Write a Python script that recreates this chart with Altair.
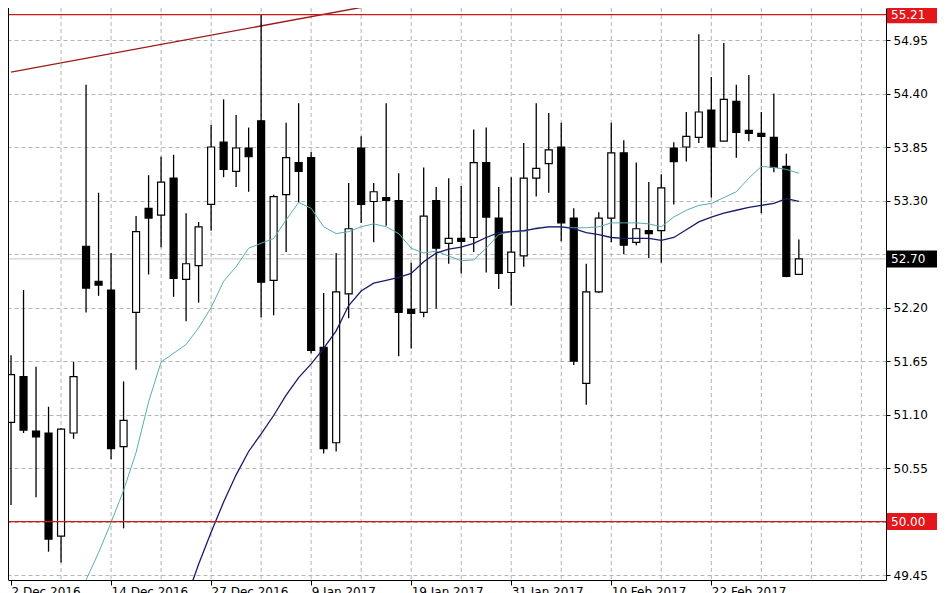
import json
import altair as alt
import pandas as pd

# ---------------- data ----------------
opens = [51.02, 51.49, 50.93, 50.91, 49.85, 50.91, 52.83, 52.47, 52.38, 50.77,
         52.15, 53.22, 53.15, 53.53, 52.49, 52.63, 53.26, 53.90, 53.60, 53.84,
         54.12, 52.48, 53.36, 53.69, 53.74, 51.79, 50.81, 52.34, 53.84, 53.29,
         53.33, 53.30, 52.18, 52.15, 53.30, 52.86, 52.91, 52.92, 53.69, 53.12,
         52.56, 52.73, 53.53, 53.68, 53.85, 53.12, 51.42, 52.36, 53.12, 53.79,
         52.87, 52.99, 52.99, 53.84, 53.85, 53.95, 54.23, 53.91, 54.32, 54.02,
         53.99, 53.95, 53.65, 52.54]
highs = [51.71, 52.38, 51.59, 51.18, 50.96, 51.64, 54.49, 53.38, 52.76, 51.44,
         53.14, 53.56, 53.75, 53.77, 53.17, 53.08, 54.08, 54.34, 54.18, 54.05,
         55.21, 53.36, 54.10, 54.30, 53.80, 52.35, 52.76, 53.48, 53.96, 53.48,
         54.30, 53.58, 52.66, 53.64, 53.44, 53.53, 53.45, 54.03, 54.05, 53.44,
         53.54, 53.89, 54.30, 54.20, 54.10, 53.22, 52.65, 53.18, 54.10, 53.92,
         53.69, 53.49, 53.57, 53.90, 54.21, 55.01, 54.57, 54.92, 54.49, 54.59,
         54.21, 54.40, 53.78, 52.90]
lows = [50.17, 50.91, 50.25, 49.69, 49.58, 50.85, 52.15, 52.32, 50.64, 49.93,
        51.56, 52.54, 52.82, 52.31, 52.06, 52.25, 52.99, 53.54, 53.44, 53.39,
        52.10, 52.12, 52.77, 53.28, 51.73, 50.70, 50.72, 52.09, 53.07, 52.87,
        53.04, 51.70, 51.78, 52.10, 52.19, 52.65, 52.55, 52.77, 52.56, 52.39,
        52.22, 52.62, 53.34, 53.38, 52.88, 51.61, 51.20, 52.35, 52.87, 52.75,
        52.84, 52.71, 52.66, 53.26, 53.70, 53.89, 53.33, 53.91, 53.74, 53.91,
        53.17, 53.59, 52.51, 52.54]
closes = [51.51, 50.94, 50.87, 49.82, 50.95, 51.49, 52.40, 52.43, 50.75, 51.04,
          52.98, 53.12, 53.49, 52.50, 52.65, 53.03, 53.85, 53.62, 53.84, 53.75,
          52.46, 53.34, 53.74, 53.60, 51.76, 50.75, 52.36, 53.01, 53.26, 53.39,
          53.30, 52.15, 52.14, 53.14, 52.81, 52.91, 52.88, 53.69, 53.13, 52.55,
          52.77, 53.53, 53.63, 53.82, 53.07, 51.65, 52.36, 53.12, 53.79, 52.84,
          53.01, 52.96, 53.43, 53.70, 53.96, 54.21, 53.85, 54.34, 54.00, 53.99,
          53.96, 53.64, 52.52, 52.70]

fast_start = 5
ma_fast = [49.13, 49.40, 49.68, 49.99, 50.32, 50.71, 51.23, 51.64, 51.73, 51.82,
           51.99, 52.20, 52.47, 52.62, 52.81, 52.86, 52.91, 53.10, 53.28, 53.22,
           53.03, 52.96, 52.98, 53.03, 53.06, 53.03, 52.96, 52.81, 52.76, 52.78,
           52.73, 52.68, 52.69, 52.81, 52.95, 52.98, 52.98, 53.02, 53.03, 53.03,
           53.02, 53.02, 53.03, 53.07, 53.07, 53.07, 53.06, 53.03, 53.13, 53.20,
           53.25, 53.27, 53.33, 53.39, 53.53, 53.65, 53.64, 53.62, 53.58]
slow_start = 14
ma_slow = [49.20, 49.56, 49.89, 50.20, 50.48, 50.72, 50.90, 51.09, 51.30, 51.48,
           51.62, 51.78, 51.96, 52.22, 52.37, 52.45, 52.48, 52.51, 52.55, 52.67,
           52.76, 52.80, 52.82, 52.86, 52.92, 52.97, 52.98, 52.99, 53.01, 53.03,
           53.03, 53.01, 52.97, 52.95, 52.92, 52.91, 52.91, 52.91, 52.89, 52.92,
           53.00, 53.08, 53.13, 53.17, 53.20, 53.23, 53.25, 53.27, 53.32, 53.29]

date_labels = ["2 Dec 2016", "14 Dec 2016", "27 Dec 2016", "9 Jan 2017",
               "19 Jan 2017", "31 Jan 2017", "10 Feb 2017", "22 Feb 2017"]
label_step = 8
grid_step = 4
price_ticks = [49.45, 50.00, 50.55, 51.10, 51.65, 52.20, 52.75, 53.30, 53.85, 54.40, 54.95]
resistance = 55.21
support = 50.00
last_price = 52.70
trend_i = [0, 40]
trend_p = [54.62, 55.57]

# ---------------- layout / style ----------------
W, H = 878, 572
X_DOM = [0.158, 69.57]
Y_DOM = [49.399, 55.279]
FONT = "DejaVu Sans"
GRID = "#b4b4b4"
RED = "#d01818"

n = len(opens)
candles = pd.DataFrame({"i": list(range(n)), "o": opens, "h": highs, "l": lows, "c": closes})
fast_df = pd.DataFrame({"i": [fast_start + k for k in range(len(ma_fast))], "v": ma_fast})
slow_df = pd.DataFrame({"i": [slow_start + k for k in range(len(ma_slow))], "v": ma_slow})
vgrid_df = pd.DataFrame({"i": list(range(grid_step, int(X_DOM[1]) + 1, grid_step))})
trend_df = pd.DataFrame({"i": trend_i, "v": trend_p})
levels_df = pd.DataFrame({"v": [resistance, support]})
last_df = pd.DataFrame({"v": [last_price]})
boxes_df = pd.DataFrame({
    "v": [resistance, last_price, support],
    "txt": [f"{resistance:.2f}", f"{last_price:.2f}", f"{support:.2f}"],
    "fill": ["#e3161c", "#000000", "#e3161c"],
})

xs = alt.Scale(domain=X_DOM, nice=False, zero=False)
ys = alt.Scale(domain=Y_DOM, nice=False, zero=False)

label_expr = f"{json.dumps(date_labels)}[floor(datum.value / {label_step})]"
x_axis = alt.Axis(values=[k * label_step for k in range(len(date_labels))],
                  labelExpr=label_expr, orient="bottom", grid=False,
                  ticks=True, tickSize=5, tickColor="black",
                  domain=True, domainColor="black",
                  labelAlign="left", labelBaseline="top", labelPadding=1,
                  labelFont=FONT, labelFontSize=12, labelColor="black",
                  labelFlush=False, labelOverlap=False, title=None)
y_axis = alt.Axis(values=price_ticks, orient="right",
                  labelExpr="(abs(datum.value-52.75)<0.001 || abs(datum.value-50)<0.001) ? '' : format(datum.value, '.2f')",
                  grid=True, gridDash=[4, 3], gridColor=GRID,
                  ticks=True, tickSize=4, tickColor="black",
                  domain=True, domainColor="black",
                  labelPadding=3, labelFont=FONT, labelFontSize=12,
                  labelColor="black", labelOverlap=False, title=None)


def X(field="i"):
    return alt.X(f"{field}:Q", scale=xs, axis=x_axis)


def Y(field):
    return alt.Y(f"{field}:Q", scale=ys, axis=y_axis)


vgrid = alt.Chart(vgrid_df).mark_rule(color=GRID, strokeDash=[4, 3], strokeWidth=1).encode(
    x=X())

left_frame = alt.Chart(last_df).mark_rule(color="black", strokeWidth=1).encode(
    x=alt.value(0.5), y=alt.value(0), y2=alt.value(H))

levels = alt.Chart(levels_df).mark_rule(color=RED, strokeWidth=1.2, clip=True).encode(
    y=Y("v"))

last_line = alt.Chart(last_df).mark_rule(color="#c4c4c4", strokeWidth=1, clip=True).encode(
    y=Y("v"))

trend = alt.Chart(trend_df).mark_line(color="#9c1a1a", strokeWidth=1.4, clip=True).encode(
    x=X(), y=Y("v"))

wicks = alt.Chart(candles).mark_rule(color="black", strokeWidth=1.3, clip=True).encode(
    x=X(), y=Y("l"), y2="h:Q")

bodies = alt.Chart(candles).mark_bar(size=7, stroke="black", strokeWidth=1.2, clip=True).encode(
    x=X(), y=Y("o"), y2="c:Q",
    fill=alt.condition("datum.c >= datum.o", alt.value("white"), alt.value("black")))

fast = alt.Chart(fast_df).mark_line(color="#5aaeae", strokeWidth=1, clip=True).encode(
    x=X(), y=Y("v"))
slow = alt.Chart(slow_df).mark_line(color="#1a1a6a", strokeWidth=1.3, clip=True).encode(
    x=X(), y=Y("v"))

boxes = alt.Chart(boxes_df).mark_point(
    shape="M0,-8.5H50V8.5H0Z", size=4, filled=True, opacity=1, strokeWidth=0).encode(
    x=alt.value(W + 1), y=Y("v"), fill=alt.Fill("fill:N", scale=None))

box_text = alt.Chart(boxes_df).mark_text(
    align="left", baseline="middle", font=FONT, fontSize=12, color="white").encode(
    x=alt.value(W + 5), y=Y("v"), text="txt:N")

chart = alt.layer(
    vgrid, last_line, trend, wicks, bodies, fast, slow, levels, left_frame, boxes, box_text
).properties(
    width=W, height=H,
    autosize=alt.AutoSizeParams(type="none"),
    padding={"left": 0, "top": 0, "right": 54, "bottom": 14},
    background="white",
).configure_view(stroke=None)

chart.save("out.html", embed_options={"renderer": "svg", "actions": False})
